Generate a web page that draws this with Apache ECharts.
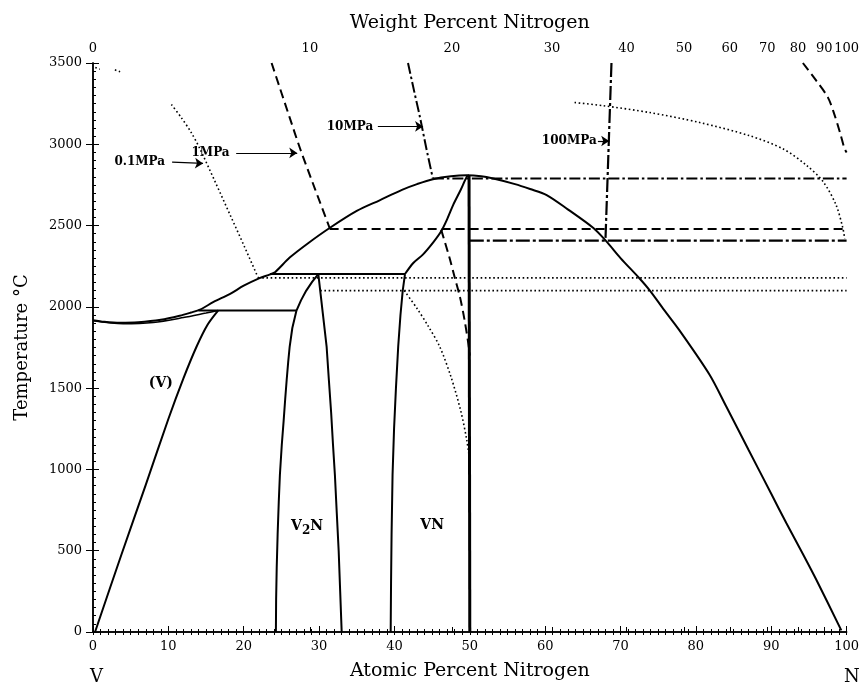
<!DOCTYPE html>
<html><head><meta charset="utf-8">
<script src="https://cdn.jsdelivr.net/npm/echarts@6/dist/echarts.min.js"></script>
<style>html,body{margin:0;padding:0;background:#fff}#c{width:862px;height:686px}</style>
</head><body><div id="c"></div>
<script>
// ---- axis data ----
const xTickValues = [0,10,20,30,40,50,60,70,80,90,100];
const yTickValues = [0,500,1000,1500,2000,2500,3000,3500];
const weightTickLabels = [0,10,20,30,40,50,60,70,80,90,100];

// ---- phase boundaries (atomic % N, °C) ----
const liquidus = [[0,1918],[1.5,1908],[3.6,1902],[6,1905],[9,1920],[11.5,1945],[13,1965],[14.2,1983],[16,2030],[18.2,2080],[20,2130],[22.1,2177],[23.5,2200],[24.2,2215],[26.1,2303],[28.5,2390],[31.4,2485],[35,2590],[38.1,2657],[41,2720],[43,2755],[45.1,2785],[47.5,2803],[49.6,2809],[51.5,2803],[53.1,2789],[56,2755],[58,2725],[60.2,2688],[63,2600],[66.4,2485],[68.1,2404],[70,2300],[72.5,2176],[73.9,2100],[75.8,1980],[77.8,1857],[81.8,1584],[84,1390],[87,1120],[90,850],[92,670],[94.2,480],[96,320],[99.3,10]];
const vSolidus = [[0,1914],[4,1896],[8,1904],[12,1934],[15,1962],[16.6,1977]];
const vSolvus = [[0.27,0],[3.8,480],[7,905],[10,1310],[12,1560],[13.75,1756],[15.2,1890],[16.6,1977]];
const peritecticLow = [[14.0,1977],[27.0,1977]];
const v2nLeft = [[24.27,0],[24.3,200],[24.38,400],[24.5,600],[24.65,800],[24.8,966],[25.05,1150],[25.3,1300],[25.5,1430],[25.7,1550],[25.9,1660],[26.1,1756],[26.45,1870],[27.0,1977],[27.6,2040],[28.3,2100],[29.1,2155],[29.9,2202]];
const v2nRight = [[29.9,2202],[30.2,2080],[30.5,1958],[31.0,1756],[31.3,1550],[31.6,1350],[31.85,1150],[32.1,966],[32.35,730],[32.6,500],[32.8,250],[33.0,0]];
const peritecticHigh = [[23.5,2202],[41.4,2202]];
const vnLeftLow = [[39.5,0],[39.55,300],[39.62,600],[39.75,966],[39.95,1250],[40.2,1500],[40.5,1756],[40.8,1950],[41.1,2100],[41.4,2202]];
const vnLeftHigh = [[41.4,2202],[42.5,2270],[43.8,2323],[45.2,2400],[46.2,2465],[47.0,2540],[47.8,2627],[48.8,2720],[49.6,2800],[49.9,2810]];
const vnRight = [[49.9,2810],[50,0]];

// ---- gas-phase boundaries at fixed N2 pressure ----
const p01Left = [[10.4,3245],[11.7,3165],[13.0,3075],[14.2,2971],[16.2,2770],[18.2,2565],[20.1,2370],[21.9,2181]];
const p01Upper = [[21.9,2178],[100,2178]];
const p01Lower = [[30.15,2100],[100,2100]];
const p01VN = [[41.3,2100],[43.0,1990],[44.5,1880],[46.0,1756],[47.5,1570],[48.8,1360],[49.6,1180],[50,1050]];
const p01Right = [[63.9,3257],[67.6,3238],[73.9,3195],[80.5,3134],[87.1,3053],[91.6,2971],[94.7,2870],[96.9,2769],[98.6,2627],[99.5,2485],[99.75,2420]];
const p01Dots = [[0.3,3472],[0.9,3462],null,[2.9,3458],[3.6,3446]];
const p1Left = [[23.7,3500],[26.1,3164],[27.5,2971],[29.5,2720],[31.4,2485]];
const p1Flat = [[31.4,2479],[100,2479]];
const p1VN = [[46.2,2475],[47.3,2303],[48.0,2180],[48.7,2060],[49.3,1920],[49.8,1776],[50,1700]];
const p1Right = [[94.2,3500],[96.0,3390],[97.5,3290],[98.3,3195],[99.2,3060],[99.7,2977],[100,2950]];
const p10Curve = [[41.8,3500],[42.6,3330],[43.4,3164],[44.25,2971],[45.1,2789]];
const p10Flat = [[45.1,2789],[100,2789]];
const p100Vert = [[68.8,3500],[68.0,2408]];
const p100Flat = [[50,2408],[100,2408]];

// ---- annotations ----
const pressureLabels = [['0.1MPa',6.2,2892],['1MPa',15.6,2947],['10MPa',34.1,3110],['100MPa',63.2,3020]];
const arrows = [[[10.5,2890],[14.6,2882]],[[19.0,2947],[27.1,2947]],[[37.8,3110],[43.8,3110]],[[67.0,3020],[68.5,3020]]];
const regionLabels = [['(V)',9.0,1530],['V2N',28.4,650],['VN',45.0,656]];

const MN = 14.007, MV = 50.942;
function wtToAt(w){ const n=w/MN, v=(100-w)/MV; return 100*n/(n+v); }
const weightTickPos = weightTickLabels.map(wtToAt);

const BLACK = '#000';
const FONT = 'DejaVu Serif';
const solid = {type:'solid', width:2};
const dotted = {type:[1.6,2.6], width:1.6};
const dashed = {type:[9,5], width:2};
const dashDot = {type:[11,3,2.5,3], width:2};
const dashDotHeavy = {type:[14,3,3,3], width:2.2};

function ln(data, style, smooth){
  return {type:'line', data:data, showSymbol:false, symbol:'none', silent:true,
    smooth: smooth ? 0.3 : false, connectNulls:false,
    lineStyle:Object.assign({color:BLACK, cap:'butt'}, style), z:3};
}

const textLabel = {show:true, position:[0,0], align:'center', verticalAlign:'middle',
  color:BLACK, opacity:1, textBorderWidth:0, fontFamily:FONT, fontWeight:'bold'};

const series = [
  ln(liquidus, solid, true),
  ln(vSolidus, {type:'solid', width:1.5}, true),
  ln(vSolvus, solid, true),
  ln(peritecticLow, solid),
  ln(v2nLeft, solid, false),
  ln(v2nRight, solid, false),
  ln(peritecticHigh, solid),
  ln(vnLeftLow, solid, false),
  ln(vnLeftHigh, solid, true),
  ln(vnRight, {type:'solid', width:3}),
  ln(p01Left, dotted, true),
  ln(p01Upper, dotted),
  ln(p01Lower, dotted),
  ln(p01VN, dotted, true),
  ln(p01Right, dotted, true),
  ln(p01Dots, dotted),
  ln(p1Left, dashed, true),
  ln(p1Flat, dashed),
  ln(p1VN, dashed, true),
  ln(p1Right, dashed, true),
  ln(p10Curve, dashDot, true),
  ln(p10Flat, dashDot),
  ln(p100Vert, dashDotHeavy),
  ln(p100Flat, dashDotHeavy),
  {
    type:'scatter', symbolSize:0, itemStyle:{color:BLACK}, silent:true, z:5,
    data: pressureLabels.map(p=>({name:p[0], value:[p[1],p[2]]})),
    label:Object.assign({formatter:p=>p.name, fontSize:12}, textLabel),
    markLine:{silent:true, symbol:['none','arrow'], symbolSize:8, label:{show:false},
      itemStyle:{color:BLACK},
      lineStyle:{color:BLACK, type:'solid', width:1.2, opacity:1},
      data: arrows.map(a=>[{coord:a[0]},{coord:a[1]}])}
  },
  {
    type:'scatter', symbolSize:0, itemStyle:{color:BLACK}, silent:true, z:5,
    data: regionLabels.map(p=>({name:p[0], value:[p[1],p[2]]})),
    label:Object.assign({fontSize:14,
      formatter:p=> p.name==='V2N' ? '{a|V}{b|2}{a|N}' : '{a|'+p.name+'}',
      rich:{a:{fontFamily:FONT, fontWeight:'bold', fontSize:14, color:BLACK, lineHeight:22, verticalAlign:'middle'},
            b:{fontFamily:FONT, fontWeight:'bold', fontSize:12, color:BLACK, lineHeight:22, padding:[10,0,0,0]}}}, textLabel)
  }
];

const axisLineStyle = {show:true, lineStyle:{color:BLACK, width:1.5}};
const labelStyle = {color:BLACK, fontFamily:FONT, fontSize:13};
const plain = v => String(v);

const option = {
  animation:false,
  backgroundColor:'#fff',
  grid:{left:93, right:15, top:63, bottom:47, containLabel:false},
  xAxis:[
    {type:'value', position:'bottom', min:0, max:100, interval:10,
     axisLine:axisLineStyle, splitLine:{show:false},
     axisTick:{show:true, inside:true, length:6, lineStyle:{color:BLACK}},
     minorTick:{show:true, splitNumber:10, length:3, lineStyle:{color:BLACK}},
     axisLabel:Object.assign({margin:8, customValues:xTickValues, formatter:plain}, labelStyle),
     name:'Atomic Percent Nitrogen', nameLocation:'middle', nameGap:30,
     nameTextStyle:{color:BLACK, fontFamily:FONT, fontSize:19}},
    {type:'value', position:'top', min:0, max:100,
     axisLine:axisLineStyle, splitLine:{show:false},
     axisTick:{show:true, inside:false, length:5, customValues:weightTickPos, lineStyle:{color:BLACK}},
     axisLabel:Object.assign({margin:8, customValues:weightTickPos,
       formatter:function(v){ let best=0; weightTickPos.forEach((p,i)=>{ if(Math.abs(p-v)<Math.abs(weightTickPos[best]-v)) best=i; }); return String(weightTickLabels[best]); }}, labelStyle),
     name:'Weight Percent Nitrogen', nameLocation:'middle', nameGap:30,
     nameTextStyle:{color:BLACK, fontFamily:FONT, fontSize:19}},
    {type:'value', position:'top', min:0, max:100, interval:1,
     axisLine:{show:false}, splitLine:{show:false}, axisLabel:{show:false},
     axisTick:{show:true, inside:true, length:3, lineStyle:{color:BLACK}}}
  ],
  yAxis:[
    {type:'value', position:'left', min:0, max:3500, interval:500,
     axisLine:axisLineStyle, splitLine:{show:false},
     axisTick:{show:true, inside:false, length:7, lineStyle:{color:BLACK}},
     axisLabel:Object.assign({margin:11, customValues:yTickValues, formatter:plain}, labelStyle),
     name:'Temperature °C', nameLocation:'middle', nameGap:62,
     nameTextStyle:{color:BLACK, fontFamily:FONT, fontSize:18}},
    {type:'value', position:'right', min:0, max:3500, interval:500,
     axisLine:axisLineStyle, splitLine:{show:false}, axisLabel:{show:false},
     axisTick:{show:true, inside:false, length:6, lineStyle:{color:BLACK}},
     minorTick:{show:true, splitNumber:10, length:3, lineStyle:{color:BLACK}}},
    {type:'value', position:'left', min:0, max:3500, interval:50,
     axisLine:{show:false}, splitLine:{show:false}, axisLabel:{show:false},
     axisTick:{show:true, inside:true, length:3, lineStyle:{color:BLACK}}}
  ],
  graphic:[
    {type:'text', left:90, top:668, style:{text:'V', fill:BLACK, font:'18px "DejaVu Serif"'}},
    {type:'text', left:844, top:668, style:{text:'N', fill:BLACK, font:'18px "DejaVu Serif"'}}
  ],
  series: series
};
const chart = echarts.init(document.getElementById('c'), null, {renderer:'canvas'});
chart.setOption(option);
</script>
</body></html>
